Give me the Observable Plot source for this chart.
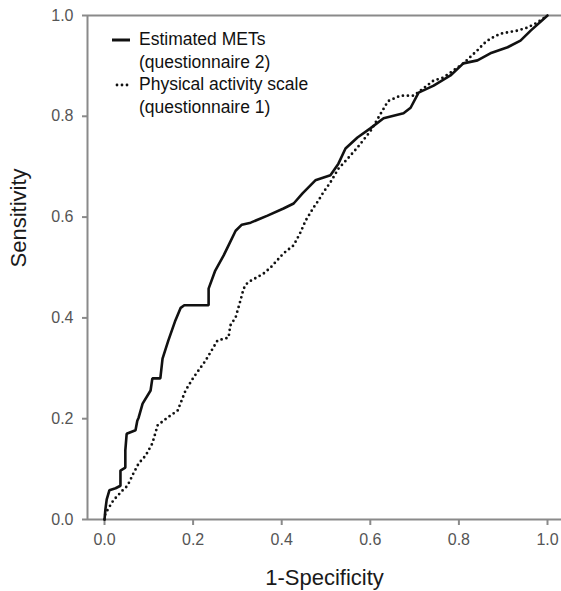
<!DOCTYPE html>
<html><head><meta charset="utf-8">
<script src="https://cdn.jsdelivr.net/npm/d3@7"></script>
<script src="https://cdn.jsdelivr.net/npm/@observablehq/plot@0.6"></script>
<style>
body{margin:0;background:#fff;font-family:"Liberation Sans",Arial,Helvetica,sans-serif;}
#wrap{position:relative;width:561px;height:591px;}
.leg{position:absolute;left:111px;font-size:17.5px;line-height:22.5px;color:#111;display:flex;align-items:flex-start;}
.leg svg{margin-top:5px;margin-right:8px;flex:none;}
</style></head><body><div id="wrap"></div>
<script>
// ROC curve: Estimated METs (questionnaire 2)
const metsFpr = [0,0.002,0.005,0.011,0.025,0.036,0.036,0.047,0.047,0.05,0.07,0.074,0.077,0.086,0.104,0.108,0.126,0.131,0.144,0.16,0.172,0.18,0.235,0.235,0.25,0.269,0.28,0.296,0.31,0.33,0.368,0.404,0.427,0.447,0.476,0.51,0.528,0.544,0.571,0.6,0.63,0.675,0.691,0.709,0.743,0.781,0.81,0.842,0.871,0.91,0.939,0.962,1];
const metsTpr = [0,0.02,0.04,0.058,0.062,0.067,0.097,0.103,0.137,0.17,0.177,0.196,0.202,0.23,0.256,0.28,0.28,0.319,0.355,0.395,0.42,0.425,0.425,0.458,0.494,0.524,0.544,0.573,0.585,0.589,0.603,0.617,0.627,0.647,0.673,0.683,0.706,0.736,0.758,0.776,0.796,0.806,0.817,0.847,0.861,0.881,0.905,0.911,0.925,0.937,0.95,0.97,1];
// ROC curve: Physical activity scale (questionnaire 1)
const pasFpr = [0,0.002,0.02,0.041,0.052,0.065,0.077,0.093,0.108,0.12,0.142,0.165,0.183,0.201,0.228,0.255,0.28,0.284,0.296,0.307,0.314,0.323,0.359,0.375,0.404,0.427,0.442,0.454,0.472,0.483,0.494,0.51,0.528,0.549,0.571,0.6,0.62,0.64,0.668,0.698,0.743,0.765,0.788,0.81,0.842,0.856,0.871,0.894,0.932,0.955,0.977,1];
const pasTpr = [0,0.012,0.038,0.058,0.067,0.091,0.111,0.127,0.151,0.187,0.202,0.216,0.256,0.282,0.315,0.355,0.361,0.385,0.401,0.435,0.458,0.47,0.488,0.5,0.528,0.544,0.569,0.593,0.619,0.633,0.649,0.669,0.696,0.716,0.738,0.77,0.8,0.83,0.841,0.841,0.871,0.877,0.891,0.905,0.931,0.944,0.954,0.964,0.97,0.976,0.986,1];
const seriesNames = ["Estimated METs (questionnaire 2)", "Physical activity scale (questionnaire 1)"];
const legendLines = [["Estimated METs","(questionnaire 2)"],["Physical activity scale","(questionnaire 1)"]];
const xTicks = [0,0.2,0.4,0.6,0.8,1.0];
const yTicks = [0,0.2,0.4,0.6,0.8,1.0];
const xTitle = "1-Specificity";
const yTitle = "Sensitivity";
const xDomain = [-0.0384, 1.0316];
const yDomain = [0, 1];

const mets = metsFpr.map((x,i)=>({x, y: metsTpr[i]}));
const pas = pasFpr.map((x,i)=>({x, y: pasTpr[i]}));

const axisGray = "#8a8a8a";
const plot = Plot.plot({
  width: 561, height: 591,
  marginLeft: 87, marginRight: 0, marginTop: 15, marginBottom: 72,
  style: {fontFamily: '"Liberation Sans", Arial, sans-serif', background: "white"},
  x: {domain: xDomain},
  y: {domain: yDomain},
  marks: [
    Plot.ruleY([yDomain[0]], {stroke: axisGray, strokeWidth: 2}),
    Plot.ruleY([yDomain[1]], {stroke: axisGray, strokeWidth: 2}),
    Plot.ruleX([xDomain[0]], {stroke: axisGray, strokeWidth: 2}),
    Plot.axisX({ticks: xTicks, tickFormat: d3.format(".1f"), tickSize: 6, tickPadding: 8, fontSize: 16, stroke: axisGray, strokeWidth: 2, fill: "#555", label: null}),
    Plot.axisY({ticks: yTicks, tickFormat: d3.format(".1f"), tickSize: 5, tickPadding: 9, fontSize: 16, stroke: axisGray, strokeWidth: 2, fill: "#555", label: null}),
    Plot.text([xTitle], {frameAnchor: "bottom", dy: 58, fontSize: 22, fill: "#1a1a1a", lineAnchor: "middle"}),
    Plot.text([yTitle], {frameAnchor: "left", dx: -69, rotate: -90, fontSize: 22, fill: "#1a1a1a", lineAnchor: "middle"}),
    Plot.line(pas, {x: "x", y: "y", stroke: "#111", strokeWidth: 2.8, strokeDasharray: "0,5", strokeLinecap: "round"}),
    Plot.line(mets, {x: "x", y: "y", stroke: "#111", strokeWidth: 2.6, strokeLinejoin: "miter"})
  ]
});
const wrap = document.getElementById("wrap");
wrap.appendChild(plot);

// Legend overlay
const tops = [28, 73];
legendLines.forEach((lines, i) => {
  const d = document.createElement("div");
  d.className = "leg";
  d.style.top = tops[i] + "px";
  const dash = i === 0 ? "" : ' stroke-dasharray="0,5" stroke-linecap="round"';
  const x1 = i === 0 ? 1 : 6;
  d.innerHTML = `<svg width="20" height="14"><line x1="${x1}" y1="7" x2="19" y2="7" stroke="#111" stroke-width="${i===0?3:2.8}"${dash}/></svg><div>${lines.join("<br>")}</div>`;
  wrap.appendChild(d);
});
</script>
</body></html>
